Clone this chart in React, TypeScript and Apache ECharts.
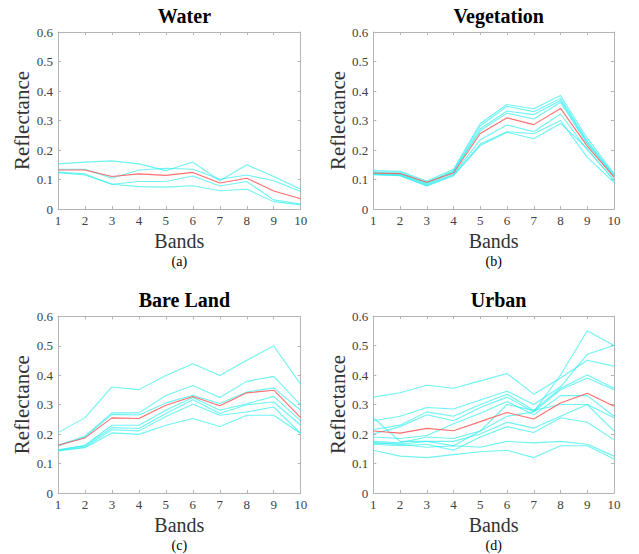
import React, { useEffect, useRef } from "react";
import * as echarts from "echarts";

const BANDS = [1, 2, 3, 4, 5, 6, 7, 8, 9, 10];
const TITLES = ["Water", "Vegetation", "Bare Land", "Urban"];
const CAPTIONS = ["(a)", "(b)", "(c)", "(d)"];
const Y_TICKS = [0, 0.1, 0.2, 0.3, 0.4, 0.5, 0.6];

const waterMean = [0.132, 0.132, 0.11, 0.119, 0.114, 0.124, 0.088, 0.104, 0.061, 0.035];
const waterSamples = [
  [0.153, 0.159, 0.163, 0.153, 0.13, 0.159, 0.096, 0.15, 0.11, 0.067],
  [0.135, 0.135, 0.104, 0.132, 0.138, 0.135, 0.101, 0.115, 0.096, 0.059],
  [0.125, 0.119, 0.084, 0.093, 0.093, 0.112, 0.078, 0.093, 0.031, 0.017],
  [0.123, 0.115, 0.084, 0.076, 0.074, 0.079, 0.062, 0.067, 0.025, 0.014],
];

const vegMean = [0.122, 0.12, 0.091, 0.122, 0.256, 0.309, 0.286, 0.341, 0.213, 0.108];
const vegSamples = [
  [0.13, 0.128, 0.095, 0.135, 0.29, 0.354, 0.34, 0.385, 0.24, 0.12],
  [0.125, 0.125, 0.09, 0.13, 0.282, 0.348, 0.33, 0.375, 0.23, 0.115],
  [0.122, 0.12, 0.085, 0.125, 0.272, 0.332, 0.32, 0.368, 0.225, 0.112],
  [0.12, 0.118, 0.088, 0.128, 0.265, 0.325, 0.305, 0.362, 0.22, 0.11],
  [0.118, 0.115, 0.082, 0.118, 0.235, 0.285, 0.262, 0.322, 0.2, 0.1],
  [0.116, 0.113, 0.08, 0.115, 0.22, 0.262, 0.255, 0.3, 0.175, 0.09],
  [0.117, 0.114, 0.078, 0.113, 0.215, 0.26, 0.238, 0.29, 0.205, 0.095],
];

const bareMean = [0.162, 0.187, 0.255, 0.253, 0.298, 0.328, 0.296, 0.34, 0.349, 0.256];
const bareSamples = [
  [0.205, 0.256, 0.36, 0.351, 0.399, 0.439, 0.399, 0.451, 0.499, 0.369],
  [0.162, 0.193, 0.272, 0.272, 0.331, 0.365, 0.324, 0.379, 0.396, 0.298],
  [0.16, 0.19, 0.267, 0.265, 0.306, 0.332, 0.304, 0.343, 0.357, 0.281],
  [0.147, 0.162, 0.23, 0.23, 0.281, 0.324, 0.281, 0.303, 0.328, 0.245],
  [0.145, 0.16, 0.222, 0.219, 0.27, 0.317, 0.27, 0.3, 0.309, 0.23],
  [0.145, 0.156, 0.215, 0.211, 0.26, 0.301, 0.264, 0.275, 0.292, 0.202],
  [0.143, 0.154, 0.204, 0.199, 0.23, 0.253, 0.226, 0.264, 0.264, 0.202],
];

const urbanMean = [0.21, 0.203, 0.219, 0.211, 0.242, 0.273, 0.251, 0.305, 0.338, 0.294];
const urbanSamples = [
  [0.325, 0.34, 0.365, 0.355, 0.38, 0.405, 0.335, 0.39, 0.45, 0.43],
  [0.255, 0.175, 0.175, 0.16, 0.21, 0.26, 0.275, 0.4, 0.55, 0.5],
  [0.245, 0.26, 0.29, 0.285, 0.315, 0.345, 0.3, 0.36, 0.47, 0.5],
  [0.215, 0.23, 0.275, 0.26, 0.3, 0.335, 0.28, 0.355, 0.4, 0.355],
  [0.2, 0.225, 0.265, 0.245, 0.29, 0.325, 0.275, 0.35, 0.39, 0.35],
  [0.19, 0.185, 0.195, 0.235, 0.27, 0.31, 0.265, 0.33, 0.33, 0.26],
  [0.175, 0.17, 0.19, 0.185, 0.21, 0.3, 0.28, 0.3, 0.3, 0.255],
  [0.17, 0.165, 0.175, 0.175, 0.2, 0.24, 0.22, 0.26, 0.3, 0.21],
  [0.165, 0.16, 0.165, 0.145, 0.19, 0.225, 0.205, 0.255, 0.24, 0.18],
  [0.17, 0.165, 0.155, 0.16, 0.155, 0.175, 0.17, 0.175, 0.165, 0.125],
  [0.145, 0.125, 0.12, 0.13, 0.14, 0.145, 0.12, 0.16, 0.16, 0.115],
];

const PANELS = [
  { mean: waterMean, samples: waterSamples },
  { mean: vegMean, samples: vegSamples },
  { mean: bareMean, samples: bareSamples },
  { mean: urbanMean, samples: urbanSamples },
];

const GRIDS = [
  { left: 58, top: 32, width: 242.7, height: 177 },
  { left: 373.3, top: 32, width: 240.7, height: 177 },
  { left: 58, top: 316.3, width: 242.7, height: 176.7 },
  { left: 373.3, top: 316, width: 240.7, height: 177 },
];

const FONT = "Liberation Serif";
const BOX = "#b4b4b4";
const CYAN = "rgba(50, 238, 238, 0.7)";
const RED = "rgba(255, 85, 85, 0.85)";

export default function App() {
  const ref = useRef<HTMLDivElement>(null);

  useEffect(() => {
    if (!ref.current) return;
    const chart = echarts.init(ref.current, null, { renderer: "svg" });

    const xAxes: any[] = [];
    const yAxes: any[] = [];
    const series: any[] = [];
    const titles: any[] = [];
    const graphics: any[] = [];

    GRIDS.forEach((g, i) => {
      const tickStyle = { show: true, inside: true, length: 3, lineStyle: { color: BOX, width: 1 } };
      const lineStyle = { show: true, onZero: false, lineStyle: { color: BOX, width: 1 } };
      xAxes.push({
        type: "value",
        gridIndex: i,
        min: BANDS[0],
        max: BANDS[BANDS.length - 1],
        interval: 1,
        position: "bottom",
        name: "Bands",
        nameLocation: "middle",
        nameGap: 22,
        nameTextStyle: { fontFamily: FONT, fontSize: 20, color: "#333" },
        axisLine: lineStyle,
        axisTick: tickStyle,
        axisLabel: { fontFamily: FONT, fontSize: 13, color: "#404040", margin: 5 },
        splitLine: { show: false },
      });
      xAxes.push({
        type: "value",
        gridIndex: i,
        min: BANDS[0],
        max: BANDS[BANDS.length - 1],
        interval: 1,
        position: "top",
        axisLine: lineStyle,
        axisTick: tickStyle,
        axisLabel: { show: false },
        splitLine: { show: false },
      });
      yAxes.push({
        type: "value",
        gridIndex: i,
        min: Y_TICKS[0],
        max: Y_TICKS[Y_TICKS.length - 1],
        interval: 0.1,
        position: "left",
        name: "Reflectance",
        nameLocation: "middle",
        nameGap: 25,
        nameTextStyle: { fontFamily: FONT, fontSize: 21, color: "#333" },
        axisLine: lineStyle,
        axisTick: tickStyle,
        axisLabel: {
          fontFamily: FONT,
          fontSize: 13,
          color: "#404040",
          margin: 5,
          formatter: (v: number) => (v === 0 ? "0" : v.toFixed(1)),
        },
        splitLine: { show: false },
      });
      yAxes.push({
        type: "value",
        gridIndex: i,
        min: Y_TICKS[0],
        max: Y_TICKS[Y_TICKS.length - 1],
        interval: 0.1,
        position: "right",
        axisLine: lineStyle,
        axisTick: tickStyle,
        axisLabel: { show: false },
        splitLine: { show: false },
      });

      const p = PANELS[i];
      p.samples.forEach((s) => {
        series.push({
          type: "line",
          xAxisIndex: i * 2,
          yAxisIndex: i * 2,
          data: BANDS.map((b, k) => [b, s[k]]),
          showSymbol: false,
          symbol: "none",
          lineStyle: { color: CYAN, width: 1.1 },
          silent: true,
        });
      });
      series.push({
        type: "line",
        xAxisIndex: i * 2,
        yAxisIndex: i * 2,
        data: BANDS.map((b, k) => [b, p.mean[k]]),
        showSymbol: false,
        symbol: "none",
        lineStyle: { color: RED, width: 1.1 },
        silent: true,
        z: 3,
      });

      const cx = g.left + g.width / 2;
      titles.push({
        text: TITLES[i],
        left: cx,
        top: g.top - 31,
        textAlign: "center",
        textStyle: { fontFamily: FONT, fontSize: 20, fontWeight: "bold", color: "#000" },
      });
      graphics.push({
        type: "text",
        x: cx,
        y: g.top + g.height + 52,
        style: {
          text: CAPTIONS[i],
          fontFamily: FONT,
          fontSize: 14,
          fill: "#000",
          align: "center",
          verticalAlign: "middle",
        },
      });
    });

    chart.setOption({
      animation: false,
      backgroundColor: "#fff",
      title: titles,
      grid: GRIDS.map((g) => ({ ...g, containLabel: false })),
      xAxis: xAxes,
      yAxis: yAxes,
      series,
      graphic: graphics,
    });

    return () => chart.dispose();
  }, []);

  return (
    <div
      ref={ref}
      style={{ position: "fixed", left: 0, top: 0, width: 639, height: 554 }}
    />
  );
}
